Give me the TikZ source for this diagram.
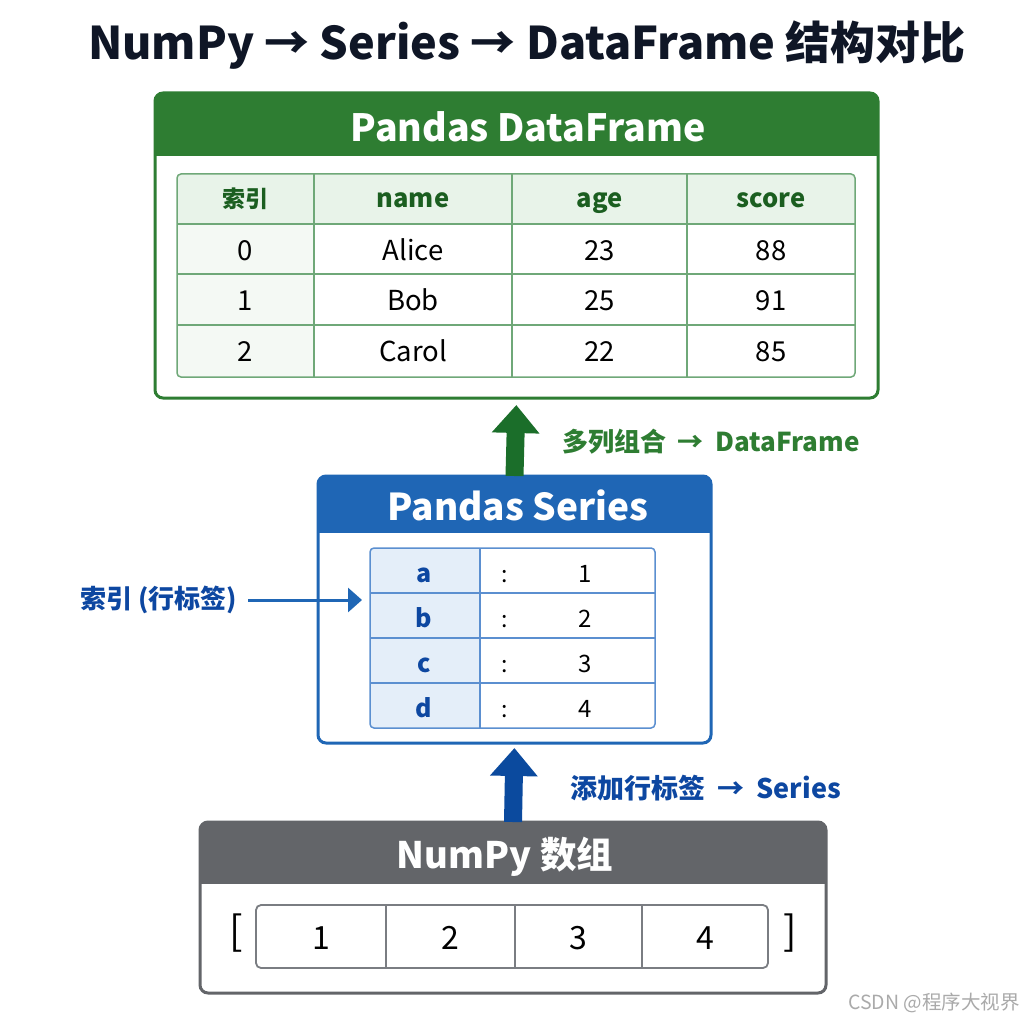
\documentclass[tikz,border=0pt]{standalone}
\usepackage{fontspec}
\setmainfont{Noto Sans CJK SC}
\usetikzlibrary{arrows.meta,calc}
\definecolor{ttext}{HTML}{0F1626}
\definecolor{dfgreen}{HTML}{2E7D32}
\definecolor{gtext}{HTML}{1B5E20}
\definecolor{gline}{HTML}{6FA878}
\definecolor{ghead}{HTML}{E8F3E9}
\definecolor{gidx}{HTML}{F4F9F4}
\definecolor{garr}{HTML}{1B6E2A}
\definecolor{sblue}{HTML}{1F66B5}
\definecolor{btext}{HTML}{0D47A1}
\definecolor{bline}{HTML}{5B8FD0}
\definecolor{bidx}{HTML}{E4EEF9}
\definecolor{barr}{HTML}{0B4A9E}
\definecolor{ngray}{HTML}{636569}
\definecolor{aline}{HTML}{7A7D82}
\definecolor{wm}{HTML}{AAAAAA}
\tikzset{
  fs/.style={font=\fontsize{#1}{#1}\selectfont},
  fsb/.style={font=\fontsize{#1}{#1}\selectfont\bfseries},
  boxbg/.style={fill=white, inner sep=0, outer sep=0},
  cell/.style={inner sep=0, anchor=base},
  fatarrow/.style={line width=18pt, -{Triangle[width=46pt,length=28pt]}},
  thinarrow/.style={line width=3pt, -{Triangle[width=24pt,length=14pt]}},
}
\newcommand{\arsp}{\hspace{0.45em}}
\begin{document}
\begin{tikzpicture}[x=1pt,y=-1pt]
\useasboundingbox[fill=white] (0,0) rectangle (1024,1024);

% title
\node[cell, fsb=45, text=ttext] (title) at (527,59.5) {NumPy → Series → DataFrame 结构对比};

% ---------- DataFrame box ----------
\node[boxbg, minimum width=723, minimum height=305] (df) at (516.5,245.5) {};
\begin{scope}
  \clip[rounded corners=8] (df.south west) rectangle (df.north east);
  \fill[dfgreen] (df.north west) rectangle ($(df.north east)+(0,63)$);
\end{scope}
\draw[dfgreen, line width=3pt, rounded corners=8] (df.south west) rectangle (df.north east);
\node[cell, fsb=37.5, text=white] (dft) at (528,141.5) {Pandas DataFrame};

% table
\coordinate (dtnw) at (177,174);
\coordinate (dtse) at (855,377);
\begin{scope}
  \clip[rounded corners=4] (dtnw) rectangle (dtse);
  \fill[ghead] (177,174) rectangle (855,224);
  \fill[gidx] (177,224) rectangle (314,377);
\end{scope}
\draw[gline, line width=1.5pt, rounded corners=4] (dtnw) rectangle (dtse);
\foreach \x in {314,512,687} \draw[gline, line width=1.5pt] (\x,174) -- (\x,377);
\foreach \y in {224,274,325} \draw[gline, line width=1.5pt] (177,\y) -- (855,\y);

\node[cell, fsb=23, text=gtext] (h0) at (245.5,208) {索引};
\node[cell, fsb=25.5, text=gtext] (h1) at (413,207.5) {name};
\node[cell, fsb=25.5, text=gtext] (h2) at (599.5,207.5) {age};
\node[cell, fsb=25.5, text=gtext] (h3) at (771,207.5) {score};
\foreach \r/\y/\i/\n/\a/\s in {1/260/0/Alice/23/88, 2/310.5/1/Bob/25/91, 3/361.5/2/Carol/22/85}{
  \node[cell, fs=27.5] (r\r c0) at (245.5,\y) {\i};
  \node[cell, fs=27.5] (r\r c1) at (413,\y) {\n};
  \node[cell, fs=27.5] (r\r c2) at (599.5,\y) {\a};
  \node[cell, fs=27.5] (r\r c3) at (771,\y) {\s};
}

% ---------- Series box ----------
\node[boxbg, minimum width=393, minimum height=267] (ser) at (514.5,609.5) {};
\begin{scope}
  \clip[rounded corners=8] (ser.south west) rectangle (ser.north east);
  \fill[sblue] (ser.north west) rectangle ($(ser.north east)+(0,57)$);
\end{scope}
\draw[sblue, line width=3pt, rounded corners=8] (ser.south west) rectangle (ser.north east);
\node[cell, fsb=37, text=white] (sert) at (518,520.5) {Pandas Series};

\coordinate (stnw) at (370,548);
\coordinate (stse) at (655,728);
\begin{scope}
  \clip[rounded corners=4] (stnw) rectangle (stse);
  \fill[bidx] (370,548) rectangle (480,728);
\end{scope}
\draw[bline, line width=1.5pt, rounded corners=4] (stnw) rectangle (stse);
\draw[bline, line width=1.5pt] (480,548) -- (480,728);
\foreach \y in {593,638,683} \draw[bline, line width=1.5pt] (370,\y) -- (655,\y);
\foreach \k/\y/\l/\v in {1/582/a/1, 2/627/b/2, 3/672/c/3, 4/717/d/4}{
  \node[cell, fsb=25, text=btext] (sk\k) at (424,\y) {\l};
  \node[cell, fs=23] (sc\k) at (505,\y) {:};
  \node[cell, fs=24] (sv\k) at (585,\y) {\v};
}

% index label
\node[fsb=26, text=btext, anchor=west, inner sep=0] (il) at (80,600) {索引 (行标签)};
\coordinate (ia) at (248,600);
\coordinate (ib) at (362,600);
\draw[thinarrow, draw=sblue, fill=sblue] (ia) -- (ib);

% ---------- NumPy box ----------
\node[boxbg, minimum width=626, minimum height=171] (np) at (513,907.5) {};
\begin{scope}
  \clip[rounded corners=8] (np.south west) rectangle (np.north east);
  \fill[ngray] (np.north west) rectangle ($(np.north east)+(0,62)$);
\end{scope}
\draw[ngray, line width=3pt, rounded corners=8] (np.south west) rectangle (np.north east);
\node[cell, fsb=36.5, text=white] (npt) at (505,868) {NumPy 数组};

\coordinate (anw) at (256,905);
\coordinate (ase) at (768,968);
\draw[aline, line width=1.8pt, rounded corners=5] (anw) rectangle (ase);
\foreach \x in {386,515,642} \draw[aline, line width=1.8pt] (\x,905) -- (\x,968);
\foreach \k/\x in {1/321,2/450,3/578,4/705}{
  \node[cell, fs=32] (a\k) at (\x,949) {\k};
}
\node[inner sep=0, fs=40] (lb) at (236,933) {[};
\node[inner sep=0, fs=40] (rb) at (790,933) {]};

% ---------- fat arrows ----------
\draw[fatarrow, draw=garr, fill=garr, shorten >=7pt] (ser.north) -- (df.south);
\node[fsb=26, text=dfgreen, anchor=west, inner sep=0] (gl) at (562,442) {多列组合\arsp→\arsp DataFrame};

\draw[fatarrow, draw=barr, fill=barr, shorten >=5pt] (np.north) -- (ser.south);
\node[fsb=27, text=btext, anchor=west, inner sep=0] (bl) at (570,788) {添加行标签\arsp→\arsp Series};

% watermark
\node[fs=19.5, text=wm, anchor=east, inner sep=0] (wmk) at (1020,1003) {CSDN @程序大视界};
\end{tikzpicture}
\end{document}
